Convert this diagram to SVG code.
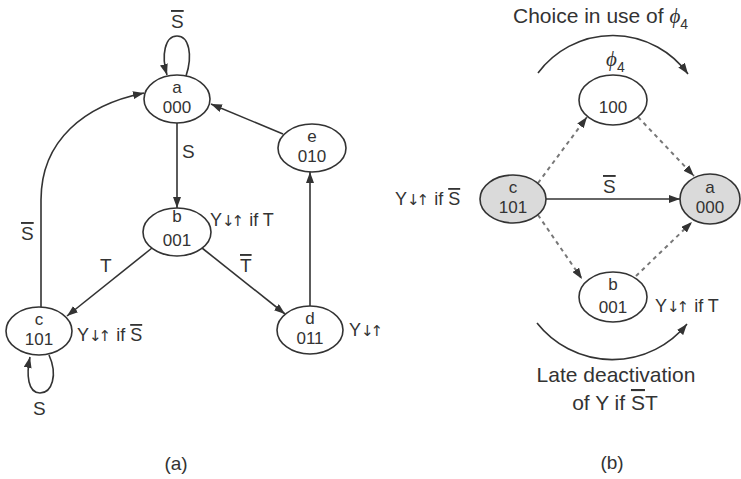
<svg xmlns="http://www.w3.org/2000/svg" width="741" height="479" viewBox="0 0 741 479">
<defs>
<marker id="arr" markerUnits="userSpaceOnUse" markerWidth="11" markerHeight="8" refX="11" refY="4" orient="auto">
<path d="M0,0 L11,4 L0,8 z" fill="#333"/>
</marker>
<style>
.n{fill:#fff;stroke:#333;stroke-width:1.6}
.g{fill:#dadada;stroke:#333;stroke-width:1.6}
.e{fill:none;stroke:#333;stroke-width:1.6}
.d{fill:none;stroke:#777;stroke-width:2;stroke-dasharray:4 4}
text{font-family:"Liberation Sans",Arial,sans-serif;fill:#333}
.nt{font-size:17px;text-anchor:middle}
.lb{font-size:19px}
.y{font-size:18px}
.ar{font-family:"DejaVu Sans",sans-serif;font-size:15px;letter-spacing:-3px;fill:#333}
.big{font-size:21px}
.phi{font-family:"Liberation Serif",serif;font-style:italic}
.ov{text-decoration:overline}
</style>
</defs>
<rect width="741" height="479" fill="#fff"/>
<g id="connectors">
<path class="e" d="M186,76 C193,55 189,36 177,36 C165,36 161,55 167,75" marker-end="url(#arr)"/>
<path class="e" d="M177,123 L177,208" marker-end="url(#arr)"/>
<path class="e" d="M283,134 L211,104" marker-end="url(#arr)"/>
<path class="e" d="M310,306 L310,172" marker-end="url(#arr)"/>
<path class="e" d="M152,248 L67,316" marker-end="url(#arr)"/>
<path class="e" d="M202,248 L285,314" marker-end="url(#arr)"/>
<path class="e" d="M41,307 L41,200 C41,140 85,105 144,93" marker-end="url(#arr)"/>
<path class="e" d="M49,355 C58,375 52,393 40,393 C28,393 26,375 30,357" marker-end="url(#arr)"/>
<path class="e" d="M546,199 L680,199" marker-end="url(#arr)"/>
<path class="d" d="M538,183 L587,117" marker-end="url(#arr)"/>
<path class="d" d="M638,117 L694,176" marker-end="url(#arr)"/>
<path class="d" d="M538,215 L582,279" marker-end="url(#arr)"/>
<path class="d" d="M636,276 L692,222" marker-end="url(#arr)"/>
<path class="e" d="M538,73 A93,93 0 0 1 688,74" marker-end="url(#arr)"/>
<path class="e" d="M537,323 A96,96 0 0 0 687,324" marker-end="url(#arr)"/>
</g>
<g id="labels">
<text class="lb" x="171" y="28"><tspan class="ov">S</tspan></text>
<text class="lb" x="182" y="158">S</text>
<text class="lb" x="21" y="240"><tspan class="ov">S</tspan></text>
<text class="lb" x="100" y="272">T</text>
<text class="lb" x="240" y="272"><tspan class="ov">T</tspan></text>
<text class="lb" x="33" y="415">S</text>
<text class="y" x="210" y="226">Y<tspan class="ar">↓↑</tspan><tspan dx="3"> if T</tspan></text>
<text class="y" x="77" y="341">Y<tspan class="ar">↓↑</tspan><tspan dx="3"> if </tspan><tspan class="ov">S</tspan></text>
<text class="y" x="349" y="336">Y<tspan class="ar">↓↑</tspan></text>
<text class="nt" x="176" y="470" style="font-size:19px">(a)</text>
<text class="nt" x="612" y="469" style="font-size:19px">(b)</text>
<text class="big" x="513" y="23">Choice in use of <tspan class="phi">ϕ</tspan><tspan font-size="14" dy="6">4</tspan></text>
<text class="big" x="606" y="66"><tspan class="phi">ϕ</tspan><tspan font-size="14" dy="6">4</tspan></text>
<text class="lb" x="603" y="193"><tspan class="ov">S</tspan></text>
<text class="y" x="395" y="205">Y<tspan class="ar">↓↑</tspan><tspan dx="3"> if </tspan><tspan class="ov">S</tspan></text>
<text class="y" x="655" y="312">Y<tspan class="ar">↓↑</tspan><tspan dx="3"> if T</tspan></text>
<text class="big" x="616" y="382" text-anchor="middle">Late deactivation</text>
<text class="big" x="615" y="410" text-anchor="middle">of Y if <tspan class="ov">S</tspan>T</text>
</g>
<g id="node-a"><ellipse class="n" cx="177" cy="99" rx="33" ry="24"/><text class="nt" x="177" y="93">a</text><text class="nt" x="177" y="113">000</text></g>
<g id="node-b"><ellipse class="n" cx="177" cy="232" rx="34" ry="24"/><text class="nt" x="177" y="222">b</text><text class="nt" x="177" y="246">001</text></g>
<g id="node-c"><ellipse class="n" cx="39" cy="331" rx="33" ry="24"/><text class="nt" x="39" y="325">c</text><text class="nt" x="39" y="345">101</text></g>
<g id="node-d"><ellipse class="n" cx="310" cy="330" rx="33" ry="24"/><text class="nt" x="310" y="324">d</text><text class="nt" x="310" y="344">011</text></g>
<g id="node-e"><ellipse class="n" cx="312" cy="148" rx="34" ry="24"/><text class="nt" x="312" y="142">e</text><text class="nt" x="312" y="162">010</text></g>
<g id="node-c2"><ellipse class="g" cx="513" cy="199" rx="33" ry="24"/><text class="nt" x="513" y="193">c</text><text class="nt" x="513" y="213">101</text></g>
<g id="node-a2"><ellipse class="g" cx="710" cy="199" rx="30" ry="25"/><text class="nt" x="710" y="193">a</text><text class="nt" x="710" y="213">000</text></g>
<g id="node-100"><ellipse class="n" cx="613" cy="100" rx="34" ry="25"/><text class="nt" x="613" y="113">100</text></g>
<g id="node-b2"><ellipse class="n" cx="613" cy="297" rx="34" ry="25"/><text class="nt" x="613" y="290">b</text><text class="nt" x="613" y="313">001</text></g>
</svg>
